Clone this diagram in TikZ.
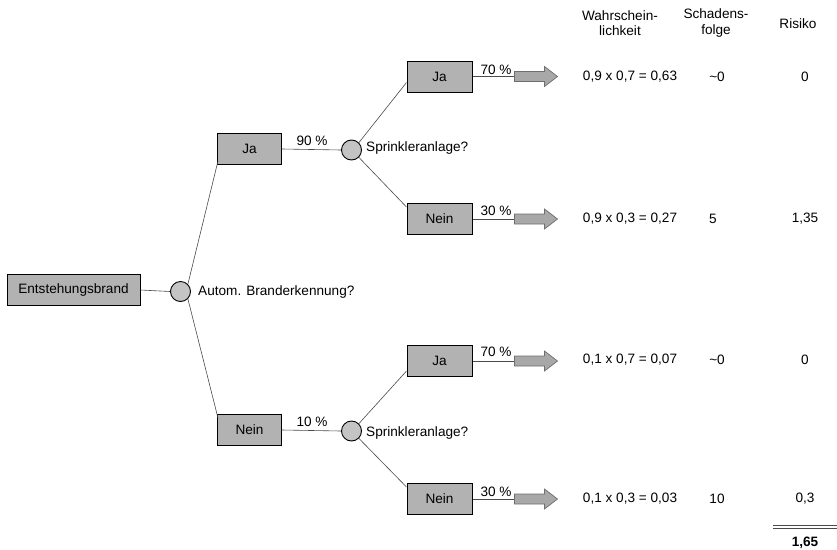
\documentclass[tikz,border=0pt]{standalone}
\usepackage{fontspec}
\setmainfont{Liberation Sans}
\usetikzlibrary{calc}
\definecolor{boxgray}{HTML}{B2B2B2}
\definecolor{circgray}{HTML}{C4C4C4}
\definecolor{arrfill}{HTML}{A8A8A8}
\definecolor{arrdraw}{HTML}{6E6E6E}
\definecolor{linegray}{HTML}{4A4A4A}
\begin{document}
\begin{tikzpicture}[x=1pt,y=-1pt,
  every node/.style={font=\fontsize{13.6}{15.5}\selectfont, inner sep=0pt},
  decbox/.style={draw=black, line width=1pt, fill=boxgray, minimum height=31pt, anchor=center},
  chance/.style={circle, draw=black, line width=0.9pt, fill=circgray, minimum size=20pt},
  conn/.style={draw=linegray, line width=0.6pt},
  blockarrow/.style={fill=arrfill, draw=arrdraw, line width=0.7pt}
]
\useasboundingbox (0,0) rectangle (837,549);

% root
\node[decbox, minimum width=133pt] (root) at (73.5,290) {Entstehungsbrand};
\node[chance] (c1) at (180.5,291.5) {};
\node[anchor=west] (q1) at (198,291.5) {Autom. Branderkennung?};

% level 1
\node[decbox, minimum width=64pt] (ja1) at (249.5,149) {Ja};
\node[decbox, minimum width=64pt] (nein1) at (249.5,430) {Nein};
\node[chance] (c2) at (351.5,150) {};
\node[chance] (c3) at (351.5,431) {};
\node[anchor=west] (q2) at (366,148) {Sprinkleranlage?};
\node[anchor=west] (q3) at (366,433) {Sprinkleranlage?};
\node (p90) at (312,141) {90 \%};
\node (p10) at (312,422) {10 \%};

% level 2
\node[decbox, minimum width=65pt] (ja2) at (439.5,76.5) {Ja};
\node[decbox, minimum width=65pt] (nein2) at (439.5,219) {Nein};
\node[decbox, minimum width=65pt] (ja3) at (439.5,361) {Ja};
\node[decbox, minimum width=65pt] (nein3) at (439.5,499) {Nein};
\node (p70a) at (496,70) {70 \%};
\node (p30a) at (496,211) {30 \%};
\node (p70b) at (496,352) {70 \%};
\node (p30b) at (496,492) {30 \%};

% connectors
\draw[conn] (root.east) -- (c1.west);
\draw[conn] (c1.north east) -- ($(ja1.south west)+(1,-4)$);
\draw[conn] (c1.south east) -- ($(nein1.north west)+(1,4)$);
\draw[conn] (ja1.east) -- (c2.west);
\draw[conn] (nein1.east) -- (c3.west);
\draw[conn] (c2.north east) -- ($(ja2.south west)+(0,-10)$);
\draw[conn] (c2.south east) -- ($(nein2.north west)+(0,4)$);
\draw[conn] (c3.north east) -- ($(ja3.south west)+(0,-6)$);
\draw[conn] (c3.south east) -- ($(nein3.north west)+(0,4)$);

% arrows
\foreach \b/\a in {ja2/a1, nein2/a2, ja3/a3, nein3/a4}{
  \coordinate (\a) at ($(\b.east)+(42,0)$);
  \draw[conn] (\b.east) -- (\a);
  \draw[blockarrow] (\a) ++(0,-5) -- ++(30,0) -- ++(0,-5) -- ++(13,10) -- ++(-13,10) -- ++(0,-5) -- ++(-30,0) -- cycle;
}

% table header
\node[align=center] (hw) at (620,23) {Wahrschein-\\lichkeit};
\node[align=center] (hs) at (716,23) {Schadens-\\folge};
\node (hr) at (798,24) {Risiko};

% rows
\node (w1) at (630,77) {0,9 x 0,7 = 0,63};
\node (s1) at (717,77) {\textasciitilde 0};
\node (r1) at (805,77) {0};
\node (w2) at (630,219) {0,9 x 0,3 = 0,27};
\node (s2) at (713,219) {5};
\node (r2) at (805,219) {1,35};
\node (w3) at (630,360) {0,1 x 0,7 = 0,07};
\node (s3) at (717,360) {\textasciitilde 0};
\node (r3) at (805,360) {0};
\node (w4) at (630,499) {0,1 x 0,3 = 0,03};
\node (s4) at (717,499) {10};
\node (r4) at (805,499) {0,3};

\draw[draw=linegray, line width=0.7pt] (773,525) -- (837,525);
\draw[draw=linegray, line width=0.7pt] (773,528.5) -- (837,528.5);
\node[font=\fontsize{13.6}{15.5}\selectfont\bfseries] (total) at (805,543) {1,65};
\end{tikzpicture}
\end{document}
